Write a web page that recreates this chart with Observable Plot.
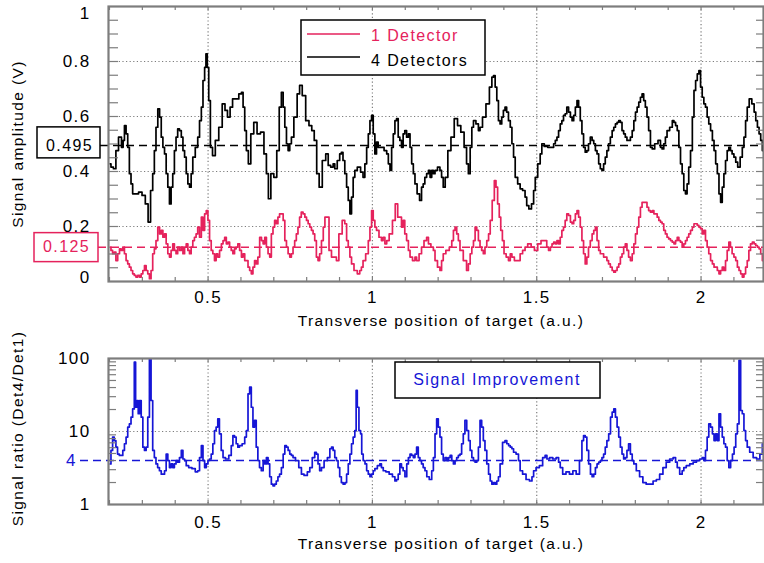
<!DOCTYPE html>
<html>
<head>
<meta charset="utf-8">
<script src="https://cdn.jsdelivr.net/npm/d3@7"></script>
<script src="https://cdn.jsdelivr.net/npm/@observablehq/plot@0.6"></script>
<style>
  html, body { margin: 0; padding: 0; background: #fff; }
  #chart { width: 764px; height: 563px; overflow: hidden; }
  #chart svg { display: block; }
</style>
</head>
<body>
<div id="chart"></div>
<script>
// ---------- data ----------
const xDomain = [0.197, 2.19];
const xTickLabels = [0.5, 1, 1.5, 2];
const xMinor = [0.2,0.3,0.4,0.5,0.6,0.7,0.8,0.9,1,1.1,1.2,1.3,1.4,1.5,1.6,1.7,1.8,1.9,2,2.1];
const ampTickLabels = [0.2, 0.4, 0.6, 0.8];
const ampTickTop = [1];
const ampTickBottom = [0];
const ampGrid = [0.2, 0.4, 0.6, 0.8];
const ampMinor = [0.05,0.1,0.15,0.2,0.25,0.3,0.35,0.4,0.45,0.5,0.55,0.6,0.65,0.7,0.75,0.8,0.85,0.9,0.95];
const ratioTickLabels = [1, 10, 100];
const ratioGrid = [10];
const ratioMinor = [2,3,4,5,6,7,8,9,20,30,40,50,60,70,80,90];

const mean4 = 0.495;   // 4 detectors mean
const mean1 = 0.125;   // 1 detector mean
const ratioRef = 4;    // signal improvement reference

const seriesNames = ["1 Detector", "4 Detectors"];
const ratioName = "Signal Improvement";

// 4 detectors: [position, amplitude V]
const det4 = [
[0.202,.428],[0.207,.416],[0.217,.410],[0.222,.476],[0.233,.525],[0.240,.488],[0.243,.513],[0.248,.567],[0.253,.537],[0.258,.488],
[0.263,.392],[0.268,.355],[0.273,.319],[0.283,.319],[0.294,.325],[0.304,.313],[0.314,.282],[0.321,.216],[0.329,.331],[0.334,.392],
[0.339,.476],[0.344,.561],[0.350,.628],[0.355,.598],[0.360,.525],[0.365,.488],[0.370,.464],[0.375,.392],[0.380,.343],[0.385,.282],
[0.390,.343],[0.395,.392],[0.400,.476],[0.405,.525],[0.410,.555],[0.416,.549],[0.421,.525],[0.426,.476],[0.431,.452],[0.436,.392],
[0.441,.355],[0.446,.343],[0.451,.392],[0.456,.452],[0.466,.488],[0.471,.525],[0.477,.585],[0.482,.634],[0.487,.731],[0.492,.779],
[0.495,.828],[0.500,.779],[0.504,.658],[0.510,.488],[0.517,.458],[0.527,.513],[0.538,.561],[0.548,.646],[0.555,.622],[0.563,.598],
[0.571,.634],[0.578,.664],[0.588,.664],[0.599,.682],[0.604,.688],[0.609,.634],[0.614,.549],[0.619,.476],[0.626,.428],[0.634,.537],
[0.644,.579],[0.654,.537],[0.665,.543],[0.675,.464],[0.680,.392],[0.687,.301],[0.695,.392],[0.705,.379],[0.713,.476],[0.720,.634],
[0.726,.688],[0.731,.634],[0.736,.561],[0.741,.501],[0.746,.476],[0.751,.501],[0.756,.525],[0.766,.598],[0.776,.682],[0.781,.713],
[0.792,.676],[0.802,.585],[0.812,.567],[0.819,.549],[0.827,.513],[0.834,.392],[0.842,.343],[0.853,.440],
[0.863,.464],[0.868,.422],[0.878,.416],[0.883,.428],[0.888,.410],[0.898,.440],[0.903,.464],[0.908,.470],[0.913,.440],[0.919,.392],
[0.924,.343],[0.929,.295],[0.934,.246],[0.939,.307],[0.944,.379],[0.949,.404],[0.959,.416],[0.969,.398],[0.974,.379],[0.980,.428],
[0.985,.488],[0.990,.537],[0.995,.585],[1.000,.604],[1.005,.537],[1.010,.464],[1.015,.507],[1.020,.488],[1.030,.488],[1.041,.476],
[1.046,.464],[1.051,.428],[1.056,.404],[1.061,.488],[1.066,.537],[1.071,.585],[1.076,.592],[1.081,.525],[1.086,.513],[1.091,.488],
[1.096,.537],[1.101,.549],[1.107,.525],[1.112,.537],[1.117,.488],[1.122,.428],[1.127,.392],[1.132,.355],[1.140,.319],[1.147,.295],
[1.152,.343],[1.157,.355],[1.162,.379],[1.168,.392],[1.173,.404],[1.178,.379],[1.183,.404],[1.188,.392],[1.193,.404],[1.203,.416],
[1.208,.404],[1.213,.379],[1.218,.343],[1.225,.379],[1.234,.476],[1.244,.525],[1.254,.592],[1.264,.567],[1.274,.543],[1.284,.488],
[1.289,.428],[1.295,.392],[1.300,.488],[1.305,.561],[1.310,.585],[1.320,.573],[1.325,.549],[1.330,.561],[1.340,.598],[1.351,.646],
[1.361,.707],[1.366,.743],[1.371,.749],[1.376,.707],[1.381,.658],[1.386,.585],[1.391,.573],[1.396,.598],[1.401,.622],[1.406,.634],
[1.411,.616],[1.417,.585],[1.422,.561],[1.427,.501],[1.432,.452],[1.437,.379],[1.447,.355],[1.452,.337],[1.462,.331],[1.467,.307],
[1.472,.276],[1.480,.264],[1.488,.282],[1.493,.331],[1.498,.379],[1.508,.428],[1.513,.464],[1.518,.501],
[1.528,.491],[1.539,.488],[1.549,.488],[1.554,.501],[1.559,.513],[1.564,.525],[1.569,.549],[1.574,.573],[1.579,.585],[1.584,.604],
[1.589,.610],[1.594,.634],[1.600,.616],[1.605,.598],[1.610,.585],[1.615,.604],[1.620,.634],[1.625,.658],[1.630,.634],[1.635,.585],
[1.640,.537],[1.645,.488],[1.650,.470],[1.655,.476],[1.660,.501],[1.666,.525],[1.671,.513],[1.676,.501],[1.681,.476],[1.686,.464],
[1.691,.428],[1.696,.410],[1.701,.404],[1.706,.428],[1.711,.452],[1.716,.476],[1.721,.501],[1.727,.525],[1.732,.549],[1.737,.561],
[1.742,.573],[1.747,.579],[1.752,.585],[1.757,.579],[1.762,.549],[1.767,.537],[1.772,.525],[1.777,.513],[1.782,.513],[1.788,.525],
[1.793,.549],[1.798,.585],[1.803,.616],[1.808,.634],[1.813,.652],[1.818,.670],[1.823,.682],[1.828,.658],[1.833,.634],[1.838,.598],
[1.843,.549],[1.849,.488],[1.854,.482],[1.864,.501],[1.874,.513],[1.879,.488],[1.884,.482],[1.889,.501],[1.894,.525],[1.899,.549],
[1.910,.561],[1.915,.585],[1.920,.579],[1.925,.567],[1.930,.549],[1.935,.488],[1.940,.428],[1.945,.392],[1.950,.331],[1.955,.319],
[1.960,.355],[1.965,.416],[1.971,.476],[1.976,.598],[1.981,.695],[1.986,.731],[1.991,.755],[1.996,.767],[2.001,.707],[2.006,.670],
[2.011,.646],[2.016,.634],[2.021,.598],[2.026,.573],[2.032,.549],[2.037,.513],[2.042,.476],[2.047,.428],[2.052,.392],[2.057,.319],
[2.062,.288],[2.067,.343],[2.072,.392],[2.077,.440],[2.082,.476],[2.087,.488],[2.092,.476],[2.097,.464],[2.103,.452],[2.108,.434],
[2.115,.416],[2.123,.452],[2.128,.488],[2.133,.525],[2.138,.585],[2.143,.634],[2.150,.664],[2.159,.646],[2.164,.616],[2.169,.585],
[2.174,.561],[2.179,.537],[2.184,.513],[2.189,.476]
];

// 1 detector: [position, amplitude V]
const det1 = [
[0.202,.125],[0.207,.113],[0.212,.101],[0.217,.107],[0.222,.076],[0.228,.101],[0.233,.119],[0.238,.113],[0.243,.125],[0.248,.101],
[0.253,.076],[0.258,.064],[0.263,.052],[0.268,.040],[0.273,.028],[0.278,.022],[0.283,.016],[0.289,.022],[0.294,.016],[0.299,.028],
[0.304,.040],[0.309,.058],[0.314,.040],[0.319,.028],[0.324,.010],[0.329,.040],[0.334,.101],[0.339,.119],[0.344,.149],[0.350,.198],
[0.355,.173],[0.360,.186],[0.365,.161],[0.370,.173],[0.375,.137],[0.380,.101],[0.385,.089],[0.390,.113],[0.395,.137],[0.400,.113],
[0.405,.101],[0.410,.125],[0.416,.113],[0.421,.125],[0.426,.101],[0.431,.125],[0.436,.137],[0.441,.113],[0.446,.101],[0.451,.125],
[0.456,.149],[0.461,.161],[0.466,.173],[0.471,.198],[0.477,.161],[0.482,.234],[0.487,.186],[0.492,.246],[0.497,.258],[0.502,.222],
[0.507,.149],[0.512,.113],[0.517,.101],[0.522,.076],[0.527,.101],[0.532,.089],[0.538,.113],[0.543,.137],[0.548,.149],[0.553,.161],
[0.558,.137],[0.563,.143],[0.568,.125],[0.573,.113],[0.578,.101],[0.583,.119],[0.588,.125],[0.593,.137],[0.599,.113],[0.604,.089],
[0.609,.101],[0.614,.076],[0.619,.076],[0.624,.052],[0.629,.040],[0.634,.028],[0.639,.052],[0.644,.076],[0.649,.064],[0.654,.089],
[0.660,.161],[0.665,.149],[0.670,.137],[0.675,.161],[0.680,.125],[0.685,.101],[0.690,.089],[0.695,.173],[0.700,.198],[0.705,.222],
[0.710,.210],[0.715,.234],[0.720,.246],[0.726,.246],[0.731,.222],[0.736,.149],[0.741,.125],[0.746,.101],[0.751,.089],[0.756,.101],
[0.761,.125],[0.766,.149],[0.771,.173],[0.776,.198],[0.781,.234],[0.786,.252],[0.792,.246],[0.797,.234],[0.802,.222],[0.807,.210],
[0.812,.198],[0.817,.186],[0.822,.173],[0.827,.149],[0.832,.089],[0.837,.076],[0.842,.101],[0.848,.149],[0.853,.198],[0.858,.234],
[0.863,.234],[0.873,.113],[0.878,.089],[0.888,.089],[0.893,.076],[0.903,.173],[0.913,.222],[0.919,.210],[0.924,.149],[0.929,.125],
[0.934,.089],[0.939,.064],[0.949,.040],[0.959,.028],[0.964,.040],[0.969,.052],[0.974,.076],[0.985,.101],[0.990,.149],[0.995,.198],
[1.000,.258],[1.005,.222],[1.010,.198],[1.015,.186],[1.025,.161],[1.030,.149],[1.035,.161],[1.041,.137],[1.046,.149],[1.056,.173],
[1.066,.222],[1.073,.282],[1.081,.234],[1.086,.234],[1.091,.198],[1.096,.222],[1.101,.173],[1.107,.149],[1.112,.113],[1.117,.089],
[1.127,.076],[1.132,.089],[1.137,.076],[1.147,.101],[1.152,.125],[1.162,.149],[1.168,.161],[1.173,.137],[1.183,.125],[1.188,.113],
[1.193,.076],[1.203,.052],[1.208,.040],[1.213,.076],[1.218,.101],[1.229,.113],[1.239,.125],[1.244,.149],[1.249,.186],[1.254,.198],
[1.259,.173],[1.264,.149],[1.269,.113],[1.284,.076],[1.289,.040],[1.295,.064],[1.300,.101],[1.305,.125],[1.310,.149],[1.315,.198],
[1.320,.186],[1.325,.149],[1.330,.125],[1.335,.113],[1.340,.101],[1.345,.125],[1.351,.149],[1.356,.173],[1.361,.222],[1.368,.295],
[1.374,.367],[1.378,.343],[1.384,.282],[1.388,.234],[1.393,.186],[1.398,.149],[1.403,.101],[1.411,.089],[1.417,.076],[1.422,.101],
[1.427,.089],[1.437,.076],[1.447,.076],[1.452,.101],[1.462,.113],[1.467,.125],[1.478,.137],[1.488,.125],[1.498,.113],[1.508,.137],
[1.518,.149],
[1.528,.149],[1.533,.125],[1.539,.113],[1.544,.125],[1.549,.137],[1.554,.143],[1.559,.137],[1.564,.149],[1.569,.137],[1.574,.161],
[1.579,.186],[1.584,.198],[1.589,.222],[1.594,.246],[1.600,.240],[1.605,.216],[1.610,.210],[1.615,.222],[1.620,.246],[1.625,.258],
[1.630,.234],[1.635,.198],[1.640,.149],[1.645,.101],[1.650,.064],[1.655,.089],[1.660,.125],[1.666,.149],[1.671,.173],[1.676,.186],
[1.681,.198],[1.686,.149],[1.691,.113],[1.696,.101],[1.701,.101],[1.706,.089],[1.711,.089],[1.716,.076],[1.721,.064],[1.727,.052],
[1.732,.040],[1.737,.034],[1.742,.040],[1.747,.052],[1.752,.064],[1.757,.089],[1.762,.101],[1.767,.125],[1.772,.137],[1.777,.113],
[1.782,.089],[1.788,.076],[1.793,.101],[1.798,.137],[1.803,.173],[1.808,.198],[1.813,.234],[1.818,.270],[1.823,.288],[1.833,.288],
[1.838,.270],[1.843,.258],[1.849,.252],[1.854,.258],[1.859,.246],[1.864,.246],[1.869,.234],[1.874,.222],[1.879,.216],[1.884,.210],
[1.889,.186],[1.894,.173],[1.899,.161],[1.904,.155],[1.910,.149],[1.915,.143],[1.920,.137],[1.925,.149],[1.930,.161],[1.935,.149],
[1.940,.143],[1.945,.125],[1.950,.137],[1.955,.149],[1.960,.161],[1.965,.173],[1.971,.186],[1.976,.198],[1.981,.210],[1.986,.210],
[1.991,.204],[1.996,.198],[2.001,.192],[2.006,.173],[2.011,.186],[2.016,.149],[2.021,.125],[2.026,.101],[2.032,.076],[2.037,.064],
[2.042,.052],[2.047,.052],[2.052,.040],[2.057,.028],[2.062,.040],[2.067,.052],[2.072,.040],[2.077,.076],[2.082,.113],[2.087,.143],
[2.092,.125],[2.097,.101],[2.103,.089],[2.108,.076],[2.113,.052],[2.118,.040],[2.123,.028],[2.128,.016],[2.133,.028],[2.138,.052],
[2.143,.076],[2.148,.113],[2.153,.137],[2.159,.143],[2.164,.137],[2.169,.131],[2.174,.125],[2.179,.119],[2.184,.101],[2.189,.076]
];

// signal ratio Det4/Det1: [position, ratio]
const ratio = [
[0.202,3.6],[0.207,5.5],[0.212,8.4],[0.217,7.5],[0.222,6.1],[0.227,4.9],[0.233,4.7],[0.238,4.7],[0.243,5.5],[0.248,6.8],
[0.253,8.4],[0.258,11.5],[0.263,12.7],[0.268,15.7],[0.273,20.4],[0.278,89],[0.281,21.5],[0.286,26.6],[0.289,17.5],[0.294,26.6],
[0.299,15.7],[0.304,6.1],[0.309,5.5],[0.314,6.1],[0.319,15.7],[0.324,99],[0.329,26.6],[0.334,5.5],[0.339,4.4],[0.344,3.6],
[0.349,3.2],[0.355,2.9],[0.360,2.6],[0.365,2.6],[0.370,2.9],[0.375,4.9],[0.380,4.0],[0.385,3.2],[0.390,3.6],[0.395,3.2],
[0.400,3.6],[0.405,4.0],[0.410,3.8],[0.416,4.4],[0.421,5.5],[0.426,4.2],[0.431,4.0],[0.436,3.4],[0.446,3.2],[0.456,3.1],
[0.466,2.8],[0.471,2.9],[0.477,4.4],[0.482,6.4],[0.487,4.0],[0.492,3.2],[0.497,3.6],[0.502,4.0],[0.507,4.2],[0.512,4.9],
[0.517,6.8],[0.522,10.3],[0.527,11.5],[0.532,14.9],[0.537,9.3],[0.543,5.5],[0.548,4.4],[0.558,4.2],[0.568,4.7],[0.573,6.4],
[0.578,8.8],[0.583,8.4],[0.588,6.8],[0.593,6.1],[0.598,6.4],[0.609,6.8],[0.614,8.4],[0.619,10.3],[0.624,32.8],[0.629,40.5],
[0.634,21.5],[0.639,11.5],[0.644,14.2],[0.649,6.1],[0.654,4.0],[0.659,3.2],[0.665,2.9],[0.670,4.0],[0.675,3.6],[0.680,4.4],
[0.685,3.6],[0.690,2.4],[0.695,1.9],[0.700,1.8],[0.705,1.9],[0.710,2.1],[0.715,2.4],[0.720,2.6],[0.726,3.2],[0.731,4.9],
[0.736,6.4],[0.741,6.1],[0.746,5.5],[0.751,4.9],[0.756,4.7],[0.761,4.4],[0.771,4.0],[0.781,3.2],[0.787,2.6],[0.797,2.5],
[0.807,2.8],[0.812,3.2],[0.822,4.4],[0.827,5.2],[0.832,4.9],[0.837,3.6],[0.842,2.9],[0.848,3.2],[0.858,4.0],[0.868,4.4],
[0.873,5.8],[0.878,6.1],[0.883,5.5],[0.888,4.4],[0.893,4.0],[0.898,3.2],[0.903,2.4],[0.908,2.0],[0.914,1.9],[0.919,2.0],
[0.924,2.6],[0.929,3.6],[0.934,4.9],[0.939,6.8],[0.944,8.4],[0.949,10.3],[0.952,36.5],[0.956,21.5],[0.962,10.3],[0.966,9.3],
[0.969,4.9],[0.975,4.0],[0.980,3.6],[0.985,2.9],[0.990,2.6],[0.995,2.4],[1.000,2.6],[1.005,2.9],[1.010,3.1],[1.020,3.4],
[1.025,3.6],[1.030,3.2],[1.036,2.9],[1.046,2.8],[1.056,2.6],[1.066,2.4],[1.071,2.1],[1.076,2.2],[1.081,2.6],[1.086,3.6],
[1.091,3.2],[1.096,2.9],[1.102,2.4],[1.107,3.6],[1.112,4.4],[1.117,4.9],[1.122,4.7],[1.127,4.4],[1.132,4.9],[1.137,6.1],
[1.142,4.4],[1.147,4.0],[1.152,3.6],[1.157,3.2],[1.163,2.9],[1.168,2.4],[1.178,2.2],[1.183,2.9],[1.188,4.4],[1.193,9.3],
[1.198,14.9],[1.203,11.5],[1.208,8.4],[1.213,4.9],[1.218,4.0],[1.224,4.4],[1.229,4.0],[1.234,4.4],[1.239,4.7],[1.244,4.0],
[1.249,3.6],[1.254,4.0],[1.259,4.4],[1.264,4.7],[1.269,4.9],[1.274,6.8],[1.279,9.3],[1.284,14.2],[1.290,10.3],[1.295,7.5],
[1.300,5.5],[1.305,4.4],[1.310,4.0],[1.315,3.8],[1.320,4.0],[1.325,6.1],[1.330,14.2],[1.335,11.5],[1.340,7.5],[1.345,5.5],
[1.351,3.6],[1.356,2.6],[1.361,2.1],[1.366,1.9],[1.371,2.0],[1.376,1.9],[1.381,2.1],[1.386,2.4],[1.391,3.6],[1.401,7.1],
[1.406,7.5],[1.412,6.8],[1.417,6.4],[1.422,6.1],[1.427,5.8],[1.432,5.2],[1.442,4.9],[1.447,4.0],
[1.452,2.9],[1.462,2.6],[1.473,2.2],[1.483,2.1],[1.488,2.4],[1.493,2.9],[1.503,3.2],[1.513,3.4],[1.523,4.4],[1.528,4.7],
[1.534,4.2],[1.544,4.4],[1.554,4.2],[1.564,4.4],[1.569,3.8],[1.574,3.2],[1.584,2.6],[1.594,2.8],[1.605,2.6],[1.615,2.9],
[1.625,2.6],[1.635,4.0],[1.640,7.5],[1.645,8.8],[1.650,8.4],[1.655,5.5],[1.661,3.6],[1.666,2.6],[1.671,2.4],[1.676,2.6],
[1.681,3.2],[1.686,3.6],[1.691,3.8],[1.696,4.0],[1.701,4.4],[1.706,4.9],[1.711,6.1],[1.716,7.5],[1.722,9.3],[1.727,15.7],
[1.732,18.4],[1.737,20.4],[1.742,15.7],[1.747,11.5],[1.752,8.4],[1.757,6.1],[1.762,4.9],[1.767,4.2],[1.772,4.4],[1.777,5.5],
[1.782,6.8],[1.788,4.9],[1.793,4.0],[1.798,3.6],[1.808,2.9],[1.818,2.4],[1.828,2.0],[1.838,1.9],[1.849,1.9],[1.859,2.1],
[1.869,2.2],[1.879,2.6],[1.889,3.2],[1.899,3.8],[1.910,4.2],[1.920,4.4],[1.925,3.8],[1.930,3.2],[1.940,2.6],[1.945,2.9],
[1.950,3.2],[1.960,3.4],[1.971,3.6],[1.981,3.8],[1.991,4.0],[2.001,4.2],[2.006,4.4],[2.011,4.0],[2.016,5.5],[2.021,8.4],
[2.026,12.7],[2.032,11.5],[2.037,9.3],[2.042,7.5],[2.047,9.3],[2.052,7.5],[2.057,17.5],[2.062,11.5],[2.067,8.4],[2.072,6.8],
[2.077,6.1],[2.082,4.0],[2.087,3.2],[2.093,4.0],[2.098,4.9],[2.103,6.1],[2.108,9.3],[2.113,12.7],[2.118,94],[2.123,19.4],
[2.128,17.5],[2.133,10.3],[2.138,7.5],[2.143,6.1],[2.153,5.2],[2.164,4.4],[2.174,4.2],[2.184,4.9],[2.189,6.8]
];

// ---------- styling ----------
const RED = "#e5225c";
const BLUE = "#1616d6";
const GRAY = "#7d7d7d";
const FONT = "'Liberation Sans', Arial, sans-serif";
const svgStyle = `font-family:${FONT};font-size:16px;letter-spacing:1.4px;background:#fff;overflow:visible;`;
const W = 764, ML = 108, MR = 1;
const FW = W - ML - MR;
const gridOpts = {stroke: GRAY, strokeOpacity: 1, strokeWidth: 1.2, strokeDasharray: "1.2,2.4"};
const px = d => d[0], py = d => d[1];
const fmt = d => String(d);
const TICKFS = 17;
const CURVE = "step";

// ---------- top panel ----------
const TH = 335, TMT = 6, TMB = 54, TFH = TH - TMT - TMB;
const ampPlot = Plot.plot({
  width: W, height: TH,
  marginLeft: ML, marginRight: MR, marginTop: TMT, marginBottom: TMB,
  style: svgStyle,
  x: {domain: xDomain, label: null},
  y: {domain: [0, 1], label: null},
  marks: [
    Plot.gridX(xTickLabels, gridOpts),
    Plot.gridY(ampGrid, gridOpts),
    Plot.ruleY([mean1], {stroke: RED, strokeWidth: 1.5, strokeDasharray: "8,5", insetLeft: -10}),
    Plot.line(det1, {x: px, y: py, stroke: RED, strokeWidth: 1.7, curve: CURVE, clip: true}),
    Plot.ruleY([mean4], {stroke: "#000", strokeWidth: 1.5, strokeDasharray: "8,5", insetLeft: -8}),
    Plot.line(det4, {x: px, y: py, stroke: "#000", strokeWidth: 1.7, curve: CURVE, clip: true}),
    Plot.tickY(ampMinor, {y: d => d, stroke: GRAY, strokeWidth: 1.2, insetRight: FW - 10}),
    Plot.tickY(ampMinor, {y: d => d, stroke: GRAY, strokeWidth: 1.2, insetLeft: FW - 7}),
    Plot.tickX(xMinor, {x: d => d, stroke: GRAY, strokeWidth: 1.2, insetBottom: TFH - 4}),
    Plot.tickX(xMinor, {x: d => d, stroke: GRAY, strokeWidth: 1.2, insetTop: TFH - 4}),
    Plot.frame({stroke: GRAY, strokeWidth: 2.2}),
    Plot.axisX(xTickLabels, {anchor: "bottom", tickSize: 0, tickPadding: 9, tickFormat: fmt, fontSize: TICKFS}),
    Plot.axisY(ampTickLabels, {anchor: "left", tickSize: 0, tickPadding: 18, tickFormat: fmt, fontSize: TICKFS}),
    Plot.axisY(ampTickTop, {anchor: "left", tickSize: 0, tickPadding: 18, tickFormat: fmt, fontSize: TICKFS, dy: 7}),
    Plot.axisY(ampTickBottom, {anchor: "left", tickSize: 0, tickPadding: 18, tickFormat: fmt, fontSize: TICKFS, dy: -4}),
    Plot.text(["Transverse position of target (a.u.)"], {frameAnchor: "bottom", dy: 44, dx: 5, text: d => d, fontSize: 15.5, textAnchor: "middle"}),
    Plot.text(["Signal amplitude (V)"], {frameAnchor: "left", rotate: -90, dx: -90, text: d => d, fontSize: 15.5, textAnchor: "middle"}),
    Plot.text([mean4], {y: d => d, frameAnchor: "left", dx: -39, text: fmt, fill: "#000", fontSize: 16, textAnchor: "middle"}),
    Plot.text([mean1], {y: d => d, frameAnchor: "left", dx: -42, text: fmt, fill: RED, fontSize: 16, textAnchor: "middle"})
  ]
});

// ---------- bottom panel ----------
const BH = 228, BMT = 23, BMB = 59, BFH = BH - BMT - BMB;
const ratioPlot = Plot.plot({
  width: W, height: BH,
  marginLeft: ML, marginRight: MR, marginTop: BMT, marginBottom: BMB,
  style: svgStyle,
  x: {domain: xDomain, label: null},
  y: {type: "log", domain: [1, 100], label: null},
  marks: [
    Plot.gridX(xTickLabels, gridOpts),
    Plot.gridY(ratioGrid, gridOpts),
    Plot.ruleY([ratioRef], {stroke: BLUE, strokeWidth: 1.5, strokeDasharray: "8,5", insetLeft: -28}),
    Plot.line(ratio, {x: px, y: py, stroke: BLUE, strokeWidth: 1.7, curve: CURVE, clip: true}),
    Plot.tickY(ratioMinor, {y: d => d, stroke: GRAY, strokeWidth: 1.2, insetRight: FW - 8}),
    Plot.tickY(ratioMinor, {y: d => d, stroke: GRAY, strokeWidth: 1.2, insetLeft: FW - 7}),
    Plot.tickX(xMinor, {x: d => d, stroke: GRAY, strokeWidth: 1.2, insetBottom: BFH - 4}),
    Plot.tickX(xMinor, {x: d => d, stroke: GRAY, strokeWidth: 1.2, insetTop: BFH - 4}),
    Plot.frame({stroke: GRAY, strokeWidth: 2.2}),
    Plot.axisX(xTickLabels, {anchor: "bottom", tickSize: 0, tickPadding: 11, tickFormat: fmt, fontSize: TICKFS}),
    Plot.axisY(ratioTickLabels, {anchor: "left", tickSize: 0, tickPadding: 18, tickFormat: fmt, fontSize: TICKFS}),
    Plot.text(["Transverse position of target (a.u.)"], {frameAnchor: "bottom", dy: 44, dx: 5, text: d => d, fontSize: 15.5, textAnchor: "middle"}),
    Plot.text(["Signal ratio (Det4/Det1)"], {frameAnchor: "left", rotate: -90, dx: -90, dy: -3, text: d => d, fontSize: 15.5, textAnchor: "middle"}),
    Plot.text([ratioRef], {y: d => d, frameAnchor: "left", dx: -37, text: fmt, fill: BLUE, fontSize: 17, textAnchor: "middle"})
  ]
});

// ---------- boxes & legends (positions from the library's scales) ----------
const yAmp = ampPlot.scale("y");
const tsel = d3.select(ampPlot);
function labelBox(sel, yv, x0, w, up, h, color) {
  sel.insert("rect", "g")
    .attr("x", x0).attr("y", yv - up).attr("width", w).attr("height", h)
    .attr("fill", "none").attr("stroke", color).attr("stroke-width", 1.5);
}
labelBox(tsel, yAmp.apply(mean4), 37, 63, 18, 31, "#000");
labelBox(tsel, yAmp.apply(mean1), 34, 64, 14, 29, RED);

const lg = tsel.append("g").attr("font-size", 16).attr("text-anchor", "start");
lg.append("rect").attr("x", 301).attr("y", 20).attr("width", 184).attr("height", 55)
  .attr("fill", "#fff").attr("stroke", "#000").attr("stroke-width", 1.5);
lg.append("line").attr("x1", 307).attr("x2", 360).attr("y1", 34).attr("y2", 34).attr("stroke", RED).attr("stroke-width", 1.5);
lg.append("text").attr("x", 371).attr("y", 35).attr("dy", "0.35em").attr("text-anchor", "start").attr("fill", RED).text(seriesNames[0]);
lg.append("line").attr("x1", 307).attr("x2", 360).attr("y1", 57).attr("y2", 57).attr("stroke", "#000").attr("stroke-width", 1.5);
lg.append("text").attr("x", 371).attr("y", 60).attr("dy", "0.35em").attr("text-anchor", "start").attr("fill", "#000").text(seriesNames[1]);

const bsel = d3.select(ratioPlot);
const bl = bsel.append("g").attr("font-size", 16);
bl.append("rect").attr("x", 395).attr("y", 362 - 335).attr("width", 205).attr("height", 36)
  .attr("fill", "#fff").attr("stroke", "#000").attr("stroke-width", 1.5);
bl.append("text").attr("x", 497).attr("y", 379 - 335).attr("dy", "0.35em").attr("text-anchor", "middle")
  .attr("fill", BLUE).text(ratioName);

const root = document.getElementById("chart");
root.appendChild(ampPlot);
root.appendChild(ratioPlot);
</script>
</body>
</html>
